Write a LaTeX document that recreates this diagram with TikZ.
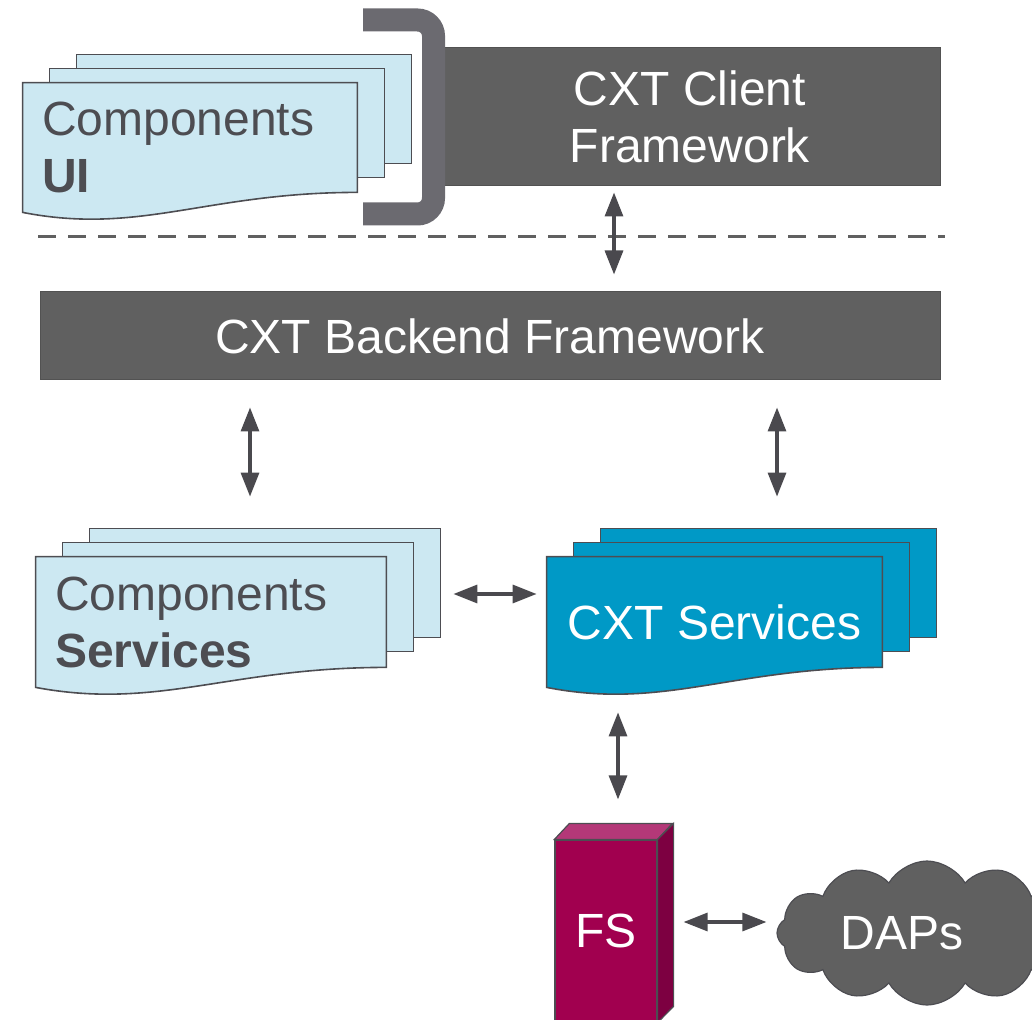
\documentclass[tikz,border=0pt]{standalone}
\usepackage{fontspec}
\setmainfont{Liberation Sans}
\usepackage{tikz}
\usetikzlibrary{arrows.meta,positioning,calc,backgrounds,shapes.symbols}
\definecolor{boxgray}{HTML}{606060}
\definecolor{edgegray}{HTML}{4D4D52}
\definecolor{sheetblue}{HTML}{CCE8F2}
\definecolor{svcblue}{HTML}{0099C6}
\definecolor{fsred}{HTML}{A1004F}
\definecolor{fstop}{HTML}{B43878}
\definecolor{fsside}{HTML}{7D0041}
\definecolor{brackgray}{HTML}{6B6A70}
\definecolor{arrgray}{HTML}{4A494E}
% two sheets behind a node, and the node's own sheet with a wavy foot
\newcommand{\sheetstack}[2]{%
  \begin{scope}[on background layer]
    \draw[sheet, fill=#2] ([shift={(54,-28)}]#1.north west) rectangle ([shift={(54,81)}]#1.north east);
    \draw[sheet, fill=#2] ([shift={(27,-14)}]#1.north west) rectangle ([shift={(27,95)}]#1.north east);
    \draw[sheet, fill=#2] (#1.north west) -- (#1.north east) -- ([yshift=10pt]#1.south east)
      .. controls ($(#1.south west)!0.55!(#1.south east)+(0,10pt)$) and ($(#1.south west)!0.35!(#1.south east)+(0,-11.5pt)$) .. (#1.south west) -- cycle;
  \end{scope}}

\begin{document}
\begin{tikzpicture}[x=0.5pt, y=-0.5pt, font=\fontsize{24}{28.5}\selectfont,
  darkbox/.style={fill=boxgray, draw=boxgray!85!black, line width=0.5pt, text=white, align=center, inner sep=0pt},
  sheet/.style={draw=edgegray, line width=0.8pt},
  leftsheet/.style={inner xsep=9.5pt, inner ysep=0pt, align=left, text=edgegray},
  arr/.style={{Triangle[length=12pt,width=9pt]}-{Triangle[length=12pt,width=9pt]}, line width=1.6pt, draw=arrgray}]
\useasboundingbox (0,0) rectangle (1032,1020);

% client side
\node[leftsheet, text width=148pt, minimum height=64.5pt] (ui) at (190,147.5) {Components\\\textbf{UI}};
\sheetstack{ui}{sheetblue}
\node[darkbox, minimum width=250pt, minimum height=69pt] (client) at (690,117) {CXT Client\\Framework};
\draw[line width=11.5pt, draw=brackgray, rounded corners=8pt] (363,20) -- (433.5,20) -- (433.5,214) -- (363,214);
\draw[line width=1.5pt, draw=boxgray, dash pattern=on 9pt off 6pt] (38,237) -- (945,237);

% backend
\node[darkbox, minimum width=450pt, minimum height=44pt] (backend) at (490,336) {CXT Backend Framework};
\draw[arr, shorten <=3pt, shorten >=8.5pt] ([xshift=-38pt]client.south) -- ([xshift=-38pt]client.south |- backend.north);

% services
\node[leftsheet, text width=156pt, minimum height=65pt] (compsvc) at (211,622) {Components\\\textbf{Services}};
\sheetstack{compsvc}{sheetblue}
\node[text=white, inner sep=0pt, minimum width=167.5pt, minimum height=65pt] (cxtsvc) at (714.5,622) {CXT Services};
\sheetstack{cxtsvc}{svcblue}
\draw[arr, shorten <=13.5pt, shorten >=30pt] ([xshift=-120pt]backend.south) -- ([xshift=-120pt]backend.south |- compsvc.north);
\draw[arr, shorten <=13.5pt, shorten >=30pt] ([xshift=143.5pt]backend.south) -- ([xshift=143.5pt]backend.south |- cxtsvc.north);
\draw[arr, shorten <=33.5pt, shorten >=5pt] ([yshift=14pt]compsvc.east) -- ([yshift=14pt]compsvc.east -| cxtsvc.west);

% file server and DAPs
\node[fill=fsred, draw=edgegray, line width=0.6pt, minimum width=51pt, minimum height=91pt, text=white, inner sep=0pt] (fs) at (606,931) {FS};
\draw[fill=fstop, draw=edgegray, line width=0.6pt] (fs.north west) -- ++(15,-16) -- ++(103,0) -- (fs.north east) -- cycle;
\draw[fill=fsside, draw=edgegray, line width=0.6pt] (fs.north east) -- ++(16,-16) -- ++(0,183) -- (fs.south east) -- cycle;
\node[cloud, cloud puffs=12, cloud puff arc=120, aspect=2.1, fill=boxgray, draw=edgegray, line width=0.6pt, minimum width=150pt, minimum height=72pt, inner sep=0pt,
  label={[text=white, xshift=-12.5pt]center:DAPs}] (daps) at (927,933) {};
\draw[arr, shorten <=12.5pt, shorten >=20pt] ([xshift=6pt]fs.north |- cxtsvc.south) -- ([xshift=6pt]fs.north);
\draw[arr, shorten <=13pt, shorten >=5pt] ([yshift=4.5pt]fs.east) -- ([yshift=4.5pt]fs.east -| daps.west);
\end{tikzpicture}
\end{document}
